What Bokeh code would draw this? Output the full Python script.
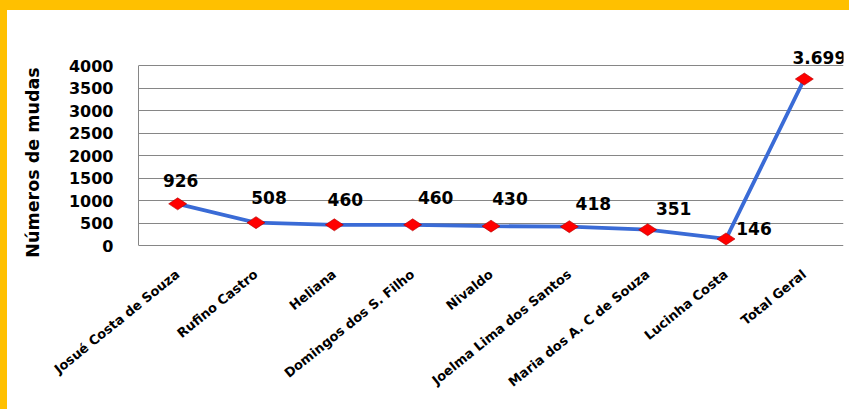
import math
from bokeh.plotting import figure
from bokeh.models import FactorRange, Range1d, ColumnDataSource, FixedTicker, LabelSet, Div
from bokeh.layouts import column, row
from bokeh.core.properties import value
from bokeh.embed import file_html
from bokeh.resources import INLINE

# ---- data ----
categories = ["Josué Costa de Souza", "Rufino Castro", "Heliana", "Domingos dos S. Filho",
              "Nivaldo", "Joelma Lima dos Santos", "Maria dos A. C de Souza",
              "Lucinha Costa", "Total Geral"]
mudas = [926, 508, 460, 460, 430, 418, 351, 146, 3699]
y_ticks = [0, 500, 1000, 1500, 2000, 2500, 3000, 3500, 4000]
y_title = "Números de mudas"

# label placement (screen pixels, styling only)
label_dx = [3, 13, 11, 23, 19, 24, 26, 28, 15]
label_dy = [23, 25, 25, 27, 28, 23, 21, 10, 22]

labels = [f"{v:,}".replace(",", ".") for v in mudas]

src = ColumnDataSource(dict(x=categories, y=mudas, lab=labels, dx=label_dx, dy=label_dy))

# view range padded above (top data label) and below (title centring); axis drawn 0..4000
p = figure(width=842, height=399, x_range=FactorRange(*categories, range_padding=0),
           y_range=Range1d(-711, 4400), output_backend="svg", toolbar_location=None,
           min_border_left=131, min_border_right=6, min_border_top=37, min_border_bottom=132,
           background_fill_color="white", border_fill_color="white", margin=0)
p.outline_line_color = None

# grid (the 0 line doubles as the category baseline)
p.xgrid.grid_line_color = None
p.ygrid.grid_line_color = "#868686"
p.ygrid.grid_line_width = 1
p.yaxis.ticker = FixedTicker(ticks=y_ticks)

# y axis
p.yaxis.bounds = (0, 4000)
p.yaxis.axis_line_color = "#868686"
p.yaxis.major_tick_line_color = None
p.yaxis.minor_tick_line_color = None
p.yaxis.major_tick_in = 0
p.yaxis.major_tick_out = 0
p.yaxis.major_label_standoff = 25
p.yaxis.major_label_text_font = "DejaVu Sans"
p.yaxis.major_label_text_font_style = "bold"
p.yaxis.major_label_text_font_size = "16px"
p.yaxis.major_label_text_color = "black"
p.yaxis.axis_label = y_title
p.yaxis.axis_label_text_font = "DejaVu Sans"
p.yaxis.axis_label_text_font_style = "bold"
p.yaxis.axis_label_text_font_size = "17.5px"
p.yaxis.axis_label_text_color = "black"
p.yaxis.axis_label_standoff = 23

# x axis
p.xaxis.axis_line_color = None
p.xaxis.major_tick_line_color = None
p.xaxis.major_tick_in = 0
p.xaxis.major_tick_out = 0
p.xaxis.major_label_orientation = 0.68
p.xaxis.major_label_standoff = -5
p.xaxis.major_label_text_font = "DejaVu Sans"
p.xaxis.major_label_text_font_style = "bold"
p.xaxis.major_label_text_font_size = "13px"
p.xaxis.major_label_text_color = "black"

# series
p.line("x", "y", source=src, line_color="#3a6bd6", line_width=3.8)
p.scatter("x", "y", source=src, marker="diamond", size=18, angle=math.pi / 2,
          fill_color="#ff0000", line_color="#b00000", line_width=0.6)
p.add_layout(LabelSet(x="x", y="y", text="lab", source=src, x_offset="dx", y_offset="dy",
                      text_align="center", text_baseline="middle",
                      text_font=value("DejaVu Sans"), text_font_style="bold",
                      text_font_size="17px", text_color="black"))

# yellow frame bands (top and left)
top_band = Div(text="", width=849, height=10, margin=0,
               styles={"background-color": "#ffc000"})
left_band = Div(text="", width=7, height=399, margin=0,
                styles={"background-color": "#ffc000"})
layout = column(top_band, row(left_band, p, spacing=0, margin=0), spacing=0, margin=0)

open("out.html", "w").write(file_html(layout, INLINE))
